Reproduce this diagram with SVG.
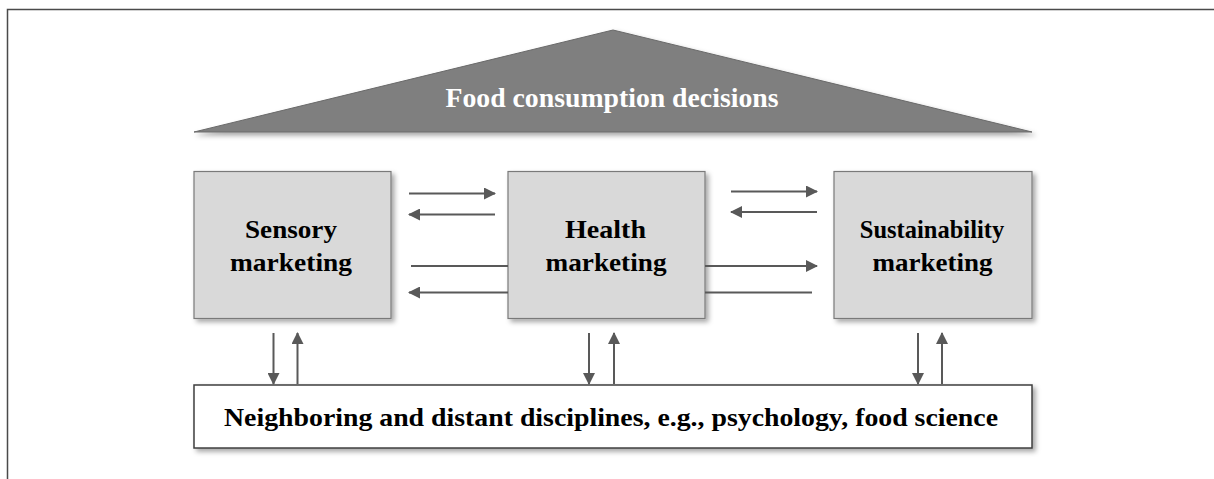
<svg xmlns="http://www.w3.org/2000/svg" width="1214" height="479" viewBox="0 0 1214 479">
<style>
  .frame{fill:none;stroke:#4a4a4a;stroke-width:1.5}
  .box{fill:#d9d9d9;stroke:#7a7a7a;stroke-width:1.2}
  .wbox{fill:#ffffff;stroke:#3f3f3f;stroke-width:1.5}
  .roof{fill:#7f7f7f;stroke:#6a6a6a;stroke-width:1}
  .lbl{font-family:"Liberation Serif","Times New Roman",serif;font-weight:bold;font-size:24.5px;fill:#000;text-anchor:middle}
  .title{font-family:"Liberation Serif","Times New Roman",serif;font-weight:bold;font-size:27px;fill:#ffffff;text-anchor:middle}
  .c{fill:none;stroke:#595959;stroke-width:2}
</style>
<defs>
  <filter id="sh" x="-10%" y="-10%" width="130%" height="140%">
    <feDropShadow dx="3" dy="3" stdDeviation="2.5" flood-color="#000" flood-opacity="0.35"/>
  </filter>
  <marker id="ah" viewBox="0 0 12 12" refX="11" refY="6" markerWidth="12" markerHeight="12" markerUnits="userSpaceOnUse" orient="auto">
    <path d="M0,0 L12,6 L0,12 Z" fill="#595959"/>
  </marker>
</defs>
<path class="frame" d="M7.5,479 V9.5 H1214"/>
<g id="roof">
  <polygon class="roof" points="194,132 613,30 1032,132" filter="url(#sh)"/>
  <text class="title" x="612" y="107" textLength="333" lengthAdjust="spacingAndGlyphs">Food consumption decisions</text>
</g>
<g id="sensory">
  <rect class="box" x="194" y="171.5" width="197" height="147" filter="url(#sh)"/>
  <text class="lbl" x="291" y="238" textLength="92" lengthAdjust="spacingAndGlyphs">Sensory</text>
  <text class="lbl" x="291" y="271" textLength="122" lengthAdjust="spacingAndGlyphs">marketing</text>
</g>
<g id="health">
  <rect class="box" x="508" y="171.5" width="197" height="147" filter="url(#sh)"/>
  <text class="lbl" x="605.5" y="237.5" textLength="81" lengthAdjust="spacingAndGlyphs">Health</text>
  <text class="lbl" x="606" y="270.5" textLength="121" lengthAdjust="spacingAndGlyphs">marketing</text>
</g>
<g id="sustainability">
  <rect class="box" x="834" y="171.5" width="198" height="147" filter="url(#sh)"/>
  <text class="lbl" x="932" y="237.5">Sustainability</text>
  <text class="lbl" x="932.5" y="270.5" textLength="120" lengthAdjust="spacingAndGlyphs">marketing</text>
</g>
<g id="disciplines">
  <rect class="wbox" x="194" y="385" width="838" height="63" filter="url(#sh)"/>
  <text class="lbl" x="611" y="426" textLength="774" lengthAdjust="spacingAndGlyphs">Neighboring and distant disciplines, e.g., psychology, food science</text>
</g>
<g id="connectors">
  <line class="c" x1="409" y1="193.5" x2="495" y2="193.5" marker-end="url(#ah)"/>
  <line class="c" x1="495" y1="214.5" x2="409" y2="214.5" marker-end="url(#ah)"/>
  <line class="c" x1="411" y1="266" x2="508" y2="266"/>
  <line class="c" x1="508" y1="292.5" x2="409" y2="292.5" marker-end="url(#ah)"/>
  <line class="c" x1="731" y1="191.5" x2="817" y2="191.5" marker-end="url(#ah)"/>
  <line class="c" x1="817" y1="212" x2="731" y2="212" marker-end="url(#ah)"/>
  <line class="c" x1="705" y1="266" x2="817" y2="266" marker-end="url(#ah)"/>
  <line class="c" x1="705" y1="292.5" x2="812" y2="292.5"/>
  <line class="c" x1="273.5" y1="333" x2="273.5" y2="384" marker-end="url(#ah)"/>
  <line class="c" x1="297.5" y1="384" x2="297.5" y2="333" marker-end="url(#ah)"/>
  <line class="c" x1="589" y1="333" x2="589" y2="384" marker-end="url(#ah)"/>
  <line class="c" x1="614" y1="384" x2="614" y2="333" marker-end="url(#ah)"/>
  <line class="c" x1="918" y1="333" x2="918" y2="384" marker-end="url(#ah)"/>
  <line class="c" x1="942" y1="384" x2="942" y2="333" marker-end="url(#ah)"/>
</g>
</svg>
